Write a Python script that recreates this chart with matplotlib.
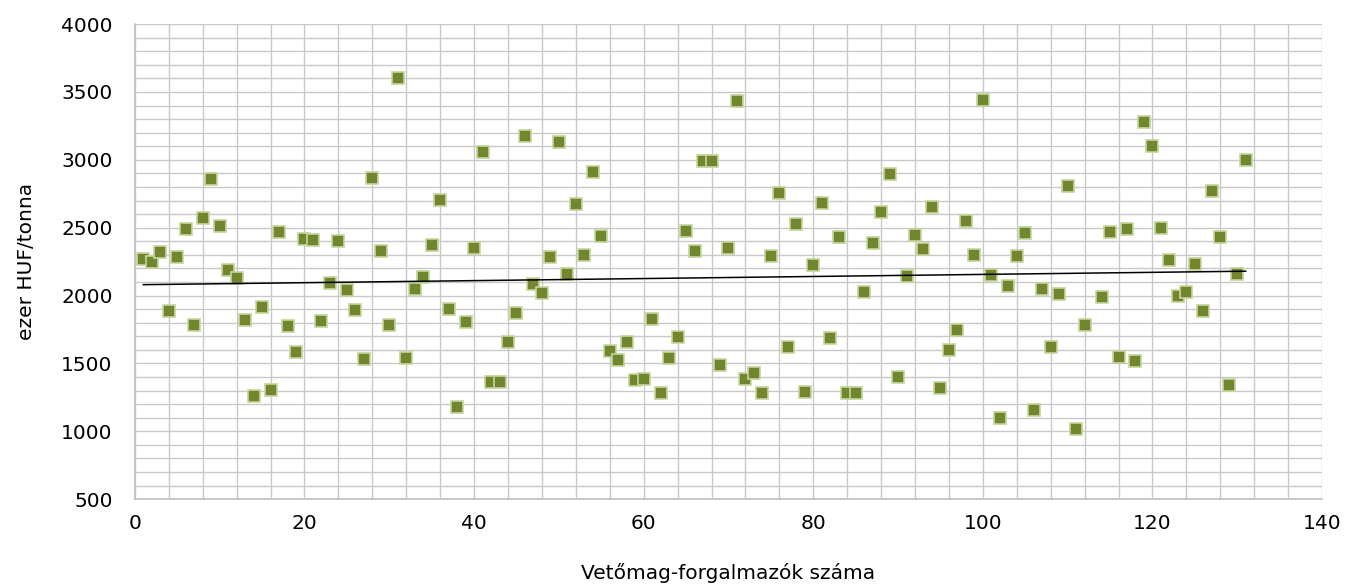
from matplotlib import pyplot as plt
from matplotlib.ticker import MultipleLocator
import numpy as np

plt.rcParams['font.family'] = ['DejaVu Sans']

# ár (ezer HUF/tonna) forgalmazónként, 1..131
# a 113. érték 4000 fölött van, ezért a diagramon nem látszik
prices = [
    2268, 2245, 2322, 1889, 2285, 2489, 1781, 2570, 2857, 2516,
    2189, 2128, 1820, 1263, 1914, 1302, 2469, 1778, 1584, 2415,
    2408, 1815, 2093, 2400, 2039, 1894, 1533, 2867, 2329, 1781,
    3602, 1538, 2046, 2137, 2373, 2707, 1900, 1179, 1808, 2350,
    3056, 1361, 1361, 1656, 1874, 3177, 2086, 2017, 2288, 3135,
    2157, 2673, 2300, 2912, 2440, 1592, 1523, 1658, 1376, 1388,
    1830, 1280, 1538, 1696, 2474, 2327, 2993, 2993, 1486, 2351,
    3437, 1388, 1428, 1280, 2292, 2759, 1619, 2528, 1287, 2226,
    2680, 1688, 2430, 1280, 1285, 2027, 2386, 2617, 2899, 1403,
    2145, 2447, 2346, 2653, 1319, 1599, 1750, 2550, 2300, 3440,
    2150, 1100, 2070, 2290, 2460, 1160, 2050, 1620, 2010, 2810,
    1020, 1780, 4150, 1990, 2470, 1550, 2490, 1520, 3280, 3100,
    2500, 2260, 2000, 2030, 2230, 1890, 2770, 2430, 1340, 2160,
    3000,
]
sellers = np.arange(1, len(prices) + 1)

fig, ax = plt.subplots(figsize=(13.49, 5.88), dpi=100)
fig.subplots_adjust(left=0.1, right=0.98, top=0.959, bottom=0.151)

ax.plot(sellers, prices, linestyle='none', marker='s', markersize=9,
        markerfacecolor='#71862F', markeredgecolor='#C3D69B',
        markeredgewidth=1.2, zorder=3)

# lineáris trend
k, b = np.polyfit(sellers, prices, 1)
ax.plot(sellers, k * sellers + b, color='black', linewidth=1.1, zorder=4)

ax.set_xlim(0, 140)
ax.set_ylim(500, 4000)
ax.xaxis.set_major_locator(MultipleLocator(20))
ax.xaxis.set_minor_locator(MultipleLocator(4))
ax.yaxis.set_major_locator(MultipleLocator(500))
ax.yaxis.set_minor_locator(MultipleLocator(100))
ax.grid(True, which='both', color='#C8C8C8', linewidth=1.0, zorder=0)
ax.set_axisbelow(True)

for s in ['top', 'right']:
    ax.spines[s].set_visible(False)
for s in ['left', 'bottom']:
    ax.spines[s].set_color('#BFBFBF')
    ax.spines[s].set_linewidth(1.2)

ax.tick_params(which='both', length=0, labelsize=14.5, colors='black')
ax.tick_params(axis='x', pad=11)
ax.tick_params(axis='y', pad=16)

ax.set_xlabel('Vetőmag-forgalmazók száma', fontsize=14.5, labelpad=21)
ax.set_ylabel('ezer HUF/tonna', fontsize=14.5, labelpad=18)

plt.savefig('out.png')
plt.close()
